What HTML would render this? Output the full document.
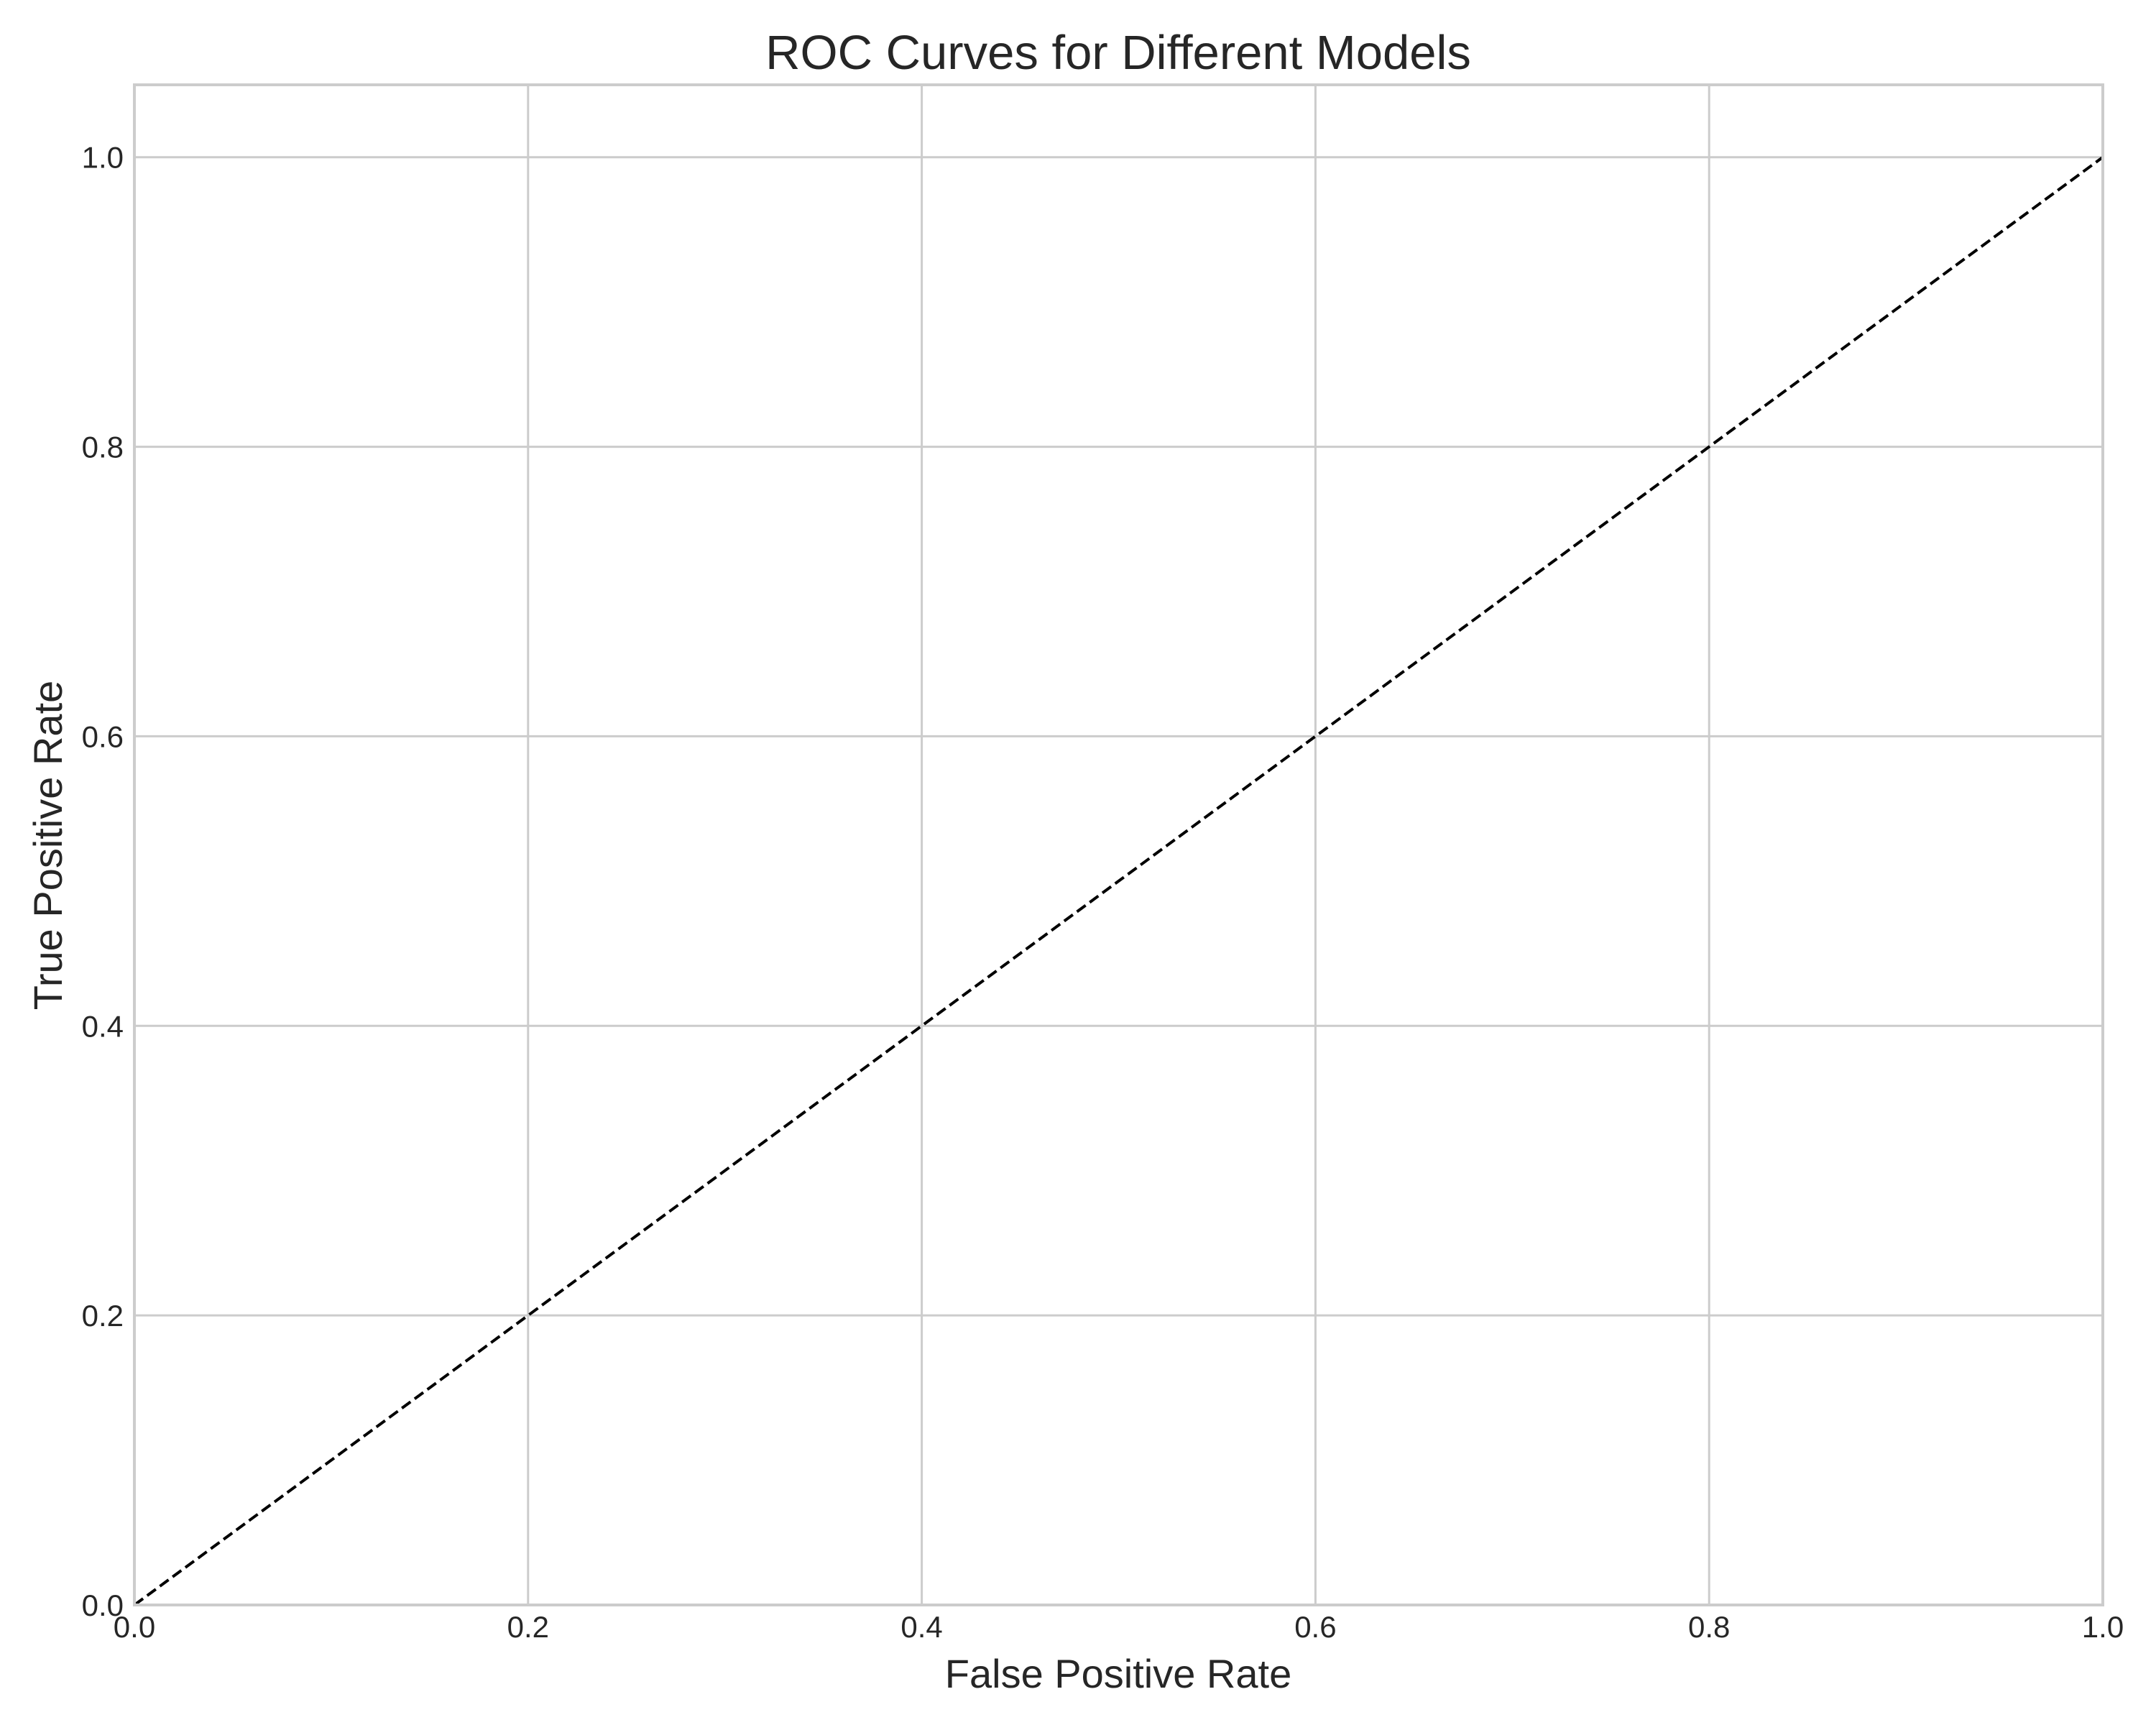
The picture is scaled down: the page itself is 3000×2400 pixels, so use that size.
<!DOCTYPE html>
<html><head><meta charset="utf-8"><style>
html,body{margin:0;padding:0;background:#fff;}
svg{display:block;font-family:"Liberation Sans",Arial,sans-serif;}
</style></head><body>
<svg id="chart" width="3000" height="2400" viewBox="0 0 3000 2400" xmlns="http://www.w3.org/2000/svg">
<rect width="3000" height="2400" fill="#fff"/>
<g id="grid"></g>
<g id="series"></g>
<rect x="187" y="118" width="2739" height="2115" fill="none" stroke="#cccccc" stroke-width="4"/>
<g id="ticks"></g>
<text x="1556" y="96" font-size="67" fill="#262626" text-anchor="middle">ROC Curves for Different Models</text>
<text x="1556" y="2348" font-size="56" fill="#262626" text-anchor="middle">False Positive Rate</text>
<text x="0" y="0" font-size="56" fill="#262626" text-anchor="middle" transform="translate(86,1176) rotate(-90)">True Positive Rate</text>
</svg>
<script>
const xTicks = [0.0, 0.2, 0.4, 0.6, 0.8, 1.0];
const yTicks = [0.0, 0.2, 0.4, 0.6, 0.8, 1.0];
const chanceX = [0, 1];
const chanceY = [0, 1];
const L = 187, R = 2926, B = 2233, T = 118;
const xMin = 0, xMax = 1, yMin = 0, yMax = 1.05;
function sx(v){ return L + (v - xMin) / (xMax - xMin) * (R - L); }
function sy(v){ return B - (v - yMin) / (yMax - yMin) * (B - T); }
const NS = "http://www.w3.org/2000/svg";
const grid = document.getElementById('grid');
const ticks = document.getElementById('ticks');
const series = document.getElementById('series');
xTicks.forEach(function(v){
  const ln = document.createElementNS(NS, 'line');
  ln.setAttribute('x1', sx(v)); ln.setAttribute('x2', sx(v));
  ln.setAttribute('y1', T); ln.setAttribute('y2', B);
  ln.setAttribute('stroke', '#cccccc'); ln.setAttribute('stroke-width', '3');
  
  
  grid.appendChild(ln);
  const t = document.createElementNS(NS, 'text');
  t.setAttribute('x', sx(v)); t.setAttribute('y', 2278);
  t.setAttribute('font-size', '42'); t.setAttribute('fill', '#262626');
  t.setAttribute('text-anchor', 'middle');
  t.textContent = v.toFixed(1);
  
  
  ticks.appendChild(t);
});
yTicks.forEach(function(v){
  const ln = document.createElementNS(NS, 'line');
  ln.setAttribute('x1', L); ln.setAttribute('x2', R);
  ln.setAttribute('y1', sy(v)); ln.setAttribute('y2', sy(v));
  ln.setAttribute('stroke', '#cccccc'); ln.setAttribute('stroke-width', '3');
  
  
  grid.appendChild(ln);
  const t = document.createElementNS(NS, 'text');
  t.setAttribute('x', 172); t.setAttribute('y', sy(v) + 15);
  t.setAttribute('font-size', '42'); t.setAttribute('fill', '#262626');
  t.setAttribute('text-anchor', 'end');
  t.textContent = v.toFixed(1);
  
  
  ticks.appendChild(t);
});
const pts = chanceX.map(function(x, i){ return sx(x) + ',' + sy(chanceY[i]); }).join(' ');
const pl = document.createElementNS(NS, 'polyline');
pl.setAttribute('points', pts);
pl.setAttribute('fill', 'none'); pl.setAttribute('stroke', '#000');
pl.setAttribute('stroke-width', '4'); pl.setAttribute('stroke-dasharray', '15,7');


series.appendChild(pl);
</script>
</body></html>
